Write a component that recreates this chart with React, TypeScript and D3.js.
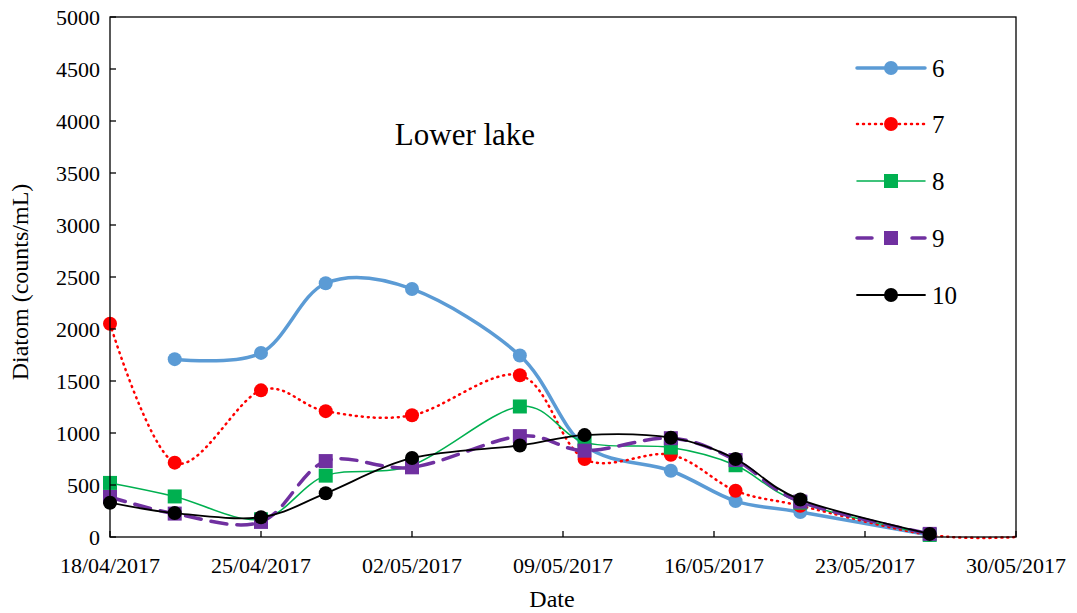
import React from "react";
import * as d3 from "d3";

const dates = ["2017-04-18","2017-04-21","2017-04-25","2017-04-28","2017-05-02","2017-05-07","2017-05-10","2017-05-14","2017-05-17","2017-05-20","2017-05-26","2017-05-30"];
const s6 = [null, 1710, 1770, 2440, 2385, 1745, 880, 637, 345, 240, 20, null];
const s7 = [2050, 715, 1410, 1210, 1170, 1555, 750, 790, 445, 300, 20, 0];
const s8 = [520, 390, 170, 590, 690, 1255, 910, 860, 690, 330, 20, null];
const s9 = [385, 225, 145, 730, 670, 970, 830, 950, 740, 340, 30, null];
const s10 = [330, 230, 190, 420, 760, 880, 980, 955, 750, 360, 30, null];
const xTicks = ["2017-04-18","2017-04-25","2017-05-02","2017-05-09","2017-05-16","2017-05-23","2017-05-30"];
const yTicks = [0,500,1000,1500,2000,2500,3000,3500,4000,4500,5000];
const seriesNames = ["6","7","8","9","10"];

const parse = d3.timeParse("%Y-%m-%d");
const fmt = d3.timeFormat("%d/%m/%Y");

export default function App() {
  const W = 1077, H = 613;
  const L = 110, R = 1016, T = 17, B = 537;
  const x = d3.scaleTime().domain([parse("2017-04-18")!, parse("2017-05-30")!]).range([L, R]);
  const y = d3.scaleLinear().domain([0, 5000]).range([B, T]);
  const font = "'Liberation Serif', 'Times New Roman', serif";

  const series = [
    { name: seriesNames[0], vals: s6, color: "#5B9BD5", width: 3.5, dash: "", marker: "circle", r: 7, noMarkLast: false },
    { name: seriesNames[1], vals: s7, color: "#FF0000", width: 2.5, dash: "1 5", marker: "circle", r: 7, noMarkLast: true },
    { name: seriesNames[2], vals: s8, color: "#00B050", width: 1.5, dash: "", marker: "square", r: 7, noMarkLast: false },
    { name: seriesNames[3], vals: s9, color: "#7030A0", width: 3.5, dash: "16 10", marker: "square", r: 7, noMarkLast: false },
    { name: seriesNames[4], vals: s10, color: "#000000", width: 1.8, dash: "", marker: "circle", r: 7, noMarkLast: false },
  ];

  const line = d3.line<[Date, number]>().x(d => x(d[0])).y(d => y(d[1])).curve(d3.curveCardinal.tension(0));

  const marker = (kind: string, cx: number, cy: number, r: number, color: string, key: any) =>
    kind === "circle"
      ? <circle key={key} cx={cx} cy={cy} r={r} fill={color} />
      : <rect key={key} x={cx - r} y={cy - r} width={2 * r} height={2 * r} fill={color} />;

  const legendY = [68, 124, 181, 238, 295];

  return (
    <svg width={W} height={H} style={{ display: "block", position: "absolute", left: 0, top: 0 }} fontFamily={font}>
      <rect x={0} y={0} width={W} height={H} fill="#fff" />
      {series.map((s, i) => {
        const pts: [Date, number][] = [];
        s.vals.forEach((v, j) => { if (v !== null) pts.push([parse(dates[j])!, v as number]); });
        return (
          <g key={i}>
            <path d={line(pts) || ""} fill="none" stroke={s.color} strokeWidth={s.width} strokeDasharray={s.dash || undefined} strokeLinecap="round" />
            {pts.map((p, j) => (s.noMarkLast && j === pts.length - 1) ? null : marker(s.marker, x(p[0]), y(p[1]), s.r, s.color, j))}
          </g>
        );
      })}
      <rect x={L} y={T} width={R - L} height={B - T} fill="none" stroke="#000" strokeWidth={1.3} />
      {yTicks.map(t => (
        <g key={t}>
          <line x1={L} x2={L + 6} y1={y(t)} y2={y(t)} stroke="#000" strokeWidth={1.3} />
          <text x={L - 10} y={y(t) + 7.5} textAnchor="end" fontSize={22}>{t}</text>
        </g>
      ))}
      {xTicks.map(t => {
        const d = parse(t)!;
        return (
          <g key={t}>
            <line x1={x(d)} x2={x(d)} y1={B} y2={B - 6} stroke="#000" strokeWidth={1.3} />
            <text x={x(d)} y={573} textAnchor="middle" fontSize={22}>{fmt(d)}</text>
          </g>
        );
      })}
      <text x={552} y={607} textAnchor="middle" fontSize={24}>Date</text>
      <text transform={`translate(28, ${(T + B) / 2 + 5}) rotate(-90)`} textAnchor="middle" fontSize={24}>Diatom (counts/mL)</text>
      <text x={465} y={145} textAnchor="middle" fontSize={31}>Lower lake</text>
      {series.map((s, i) => (
        <g key={"l" + i}>
          <line x1={857} x2={925} y1={legendY[i]} y2={legendY[i]} stroke={s.color} strokeWidth={s.width}
            strokeDasharray={s.dash ? (i === 3 ? "15 40" : s.dash) : undefined} strokeLinecap="round" />
          {marker(s.marker, 891, legendY[i], s.r, s.color, "m")}
          <text x={932} y={legendY[i] + 9} fontSize={25}>{s.name}</text>
        </g>
      ))}
    </svg>
  );
}
